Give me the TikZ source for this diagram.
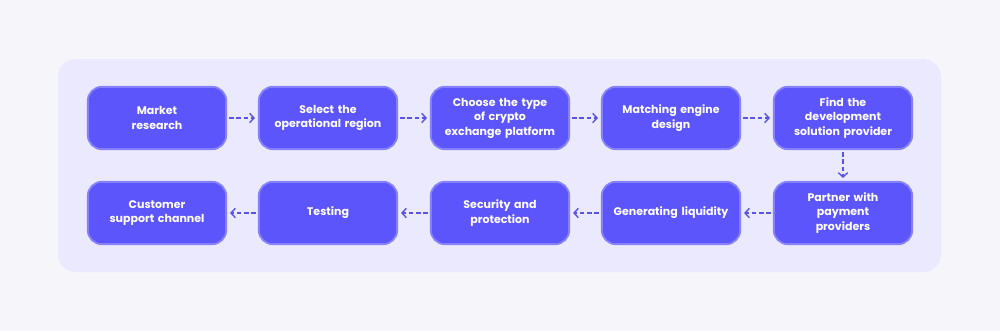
\documentclass[tikz,border=0pt]{standalone}
\usepackage{fontspec}
\setmainfont{Poppins}
\usetikzlibrary{positioning, arrows.meta}
\definecolor{pagebg}{HTML}{F6F5F9}
\definecolor{panelbg}{HTML}{EBE9FD}
\definecolor{stepfill}{HTML}{5B55FB}
\definecolor{stepedge}{HTML}{8581FA}
\definecolor{flowline}{HTML}{5A54E6}

\begin{document}
\begin{tikzpicture}[x=0.03cm, y=-0.03cm, font=\fontsize{9.4}{12.4}\selectfont\bfseries,
  >={Straight Barb[length=1.3mm, width=2.8mm, line width=1.2pt]},
  stepbox/.style={draw=stepedge, line width=1.6pt, fill=stepfill, text=white,
                  rounded corners=12pt, align=center, inner sep=2pt,
                  minimum width=4.15cm, minimum height=1.87cm, text width=3.9cm},
  f/.style={->, draw=flowline, line width=1pt, dash pattern=on 3.5pt off 2.5pt, shorten <=2pt, shorten >=2.5pt}]
% Page and panel.
\fill[pagebg] (0,0) rectangle (1000,331);
\useasboundingbox (0,0) rectangle (1000,331);
\fill[panelbg, rounded corners=15pt] (58,59) rectangle (941,272);
% Top row, left to right.
\node[stepbox] (market) at (157,118) {Market\\research};
\node[stepbox] (region) at (328,118) {Select the\\operational region};
\node[stepbox] (platform) at (500,118) {Choose the type\\of crypto\\exchange platform};
\node[stepbox] (engine) at (671,118) {Matching engine\\design};
\node[stepbox] (provider) at (843,118) {Find the\\development\\solution provider};
% Bottom row, right to left.
\node[stepbox] (payment) at (843,213) {Partner with\\payment\\providers};
\node[stepbox] (liquidity) at (671,213) {Generating liquidity};
\node[stepbox] (security) at (500,213) {Security and\\protection};
\node[stepbox] (testing) at (328,213) {Testing};
\node[stepbox] (support) at (157,213) {Customer\\support channel};
% Flow arrows.
\draw[f] (market)--(region); \draw[f] (region)--(platform);
\draw[f] (platform)--(engine); \draw[f] (engine)--(provider);
\draw[f] (provider)--(payment);
\draw[f] (payment)--(liquidity); \draw[f] (liquidity)--(security);
\draw[f] (security)--(testing); \draw[f] (testing)--(support);
\end{tikzpicture}
\end{document}
